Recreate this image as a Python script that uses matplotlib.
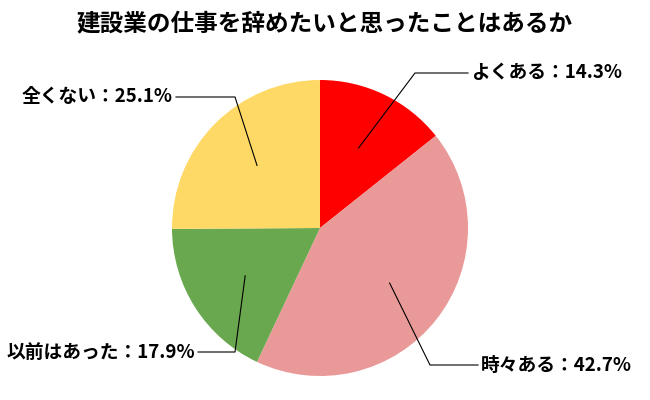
import matplotlib
matplotlib.use("Agg")
import matplotlib.pyplot as plt
import numpy as np

plt.rcParams['font.family'] = ['Noto Sans CJK JP', 'DejaVu Sans']

title = "建設業の仕事を辞めたいと思ったことはあるか"
categories = ["よくある", "時々ある", "以前はあった", "全くない"]
values = [14.3, 42.7, 17.9, 25.1]
colors = ["#FF0000", "#EA9999", "#6AA84F", "#FFD966"]

fig = plt.figure(figsize=(6.5, 4.0), dpi=100)
ax = fig.add_axes([0, 0, 1, 1])

cx, cy, r = 320, 172, 148
wedges, _ = ax.pie(values, colors=colors, startangle=90, counterclock=False,
                   center=(cx, cy), radius=r, frame=True,
                   wedgeprops=dict(linewidth=0))
ax.set_xlim(0, 650); ax.set_ylim(0, 400); ax.set_aspect('equal'); ax.axis('off')

knees = [(415, 327), (430, 35), (235, 48), (235, 303)]
ends = [(468, 327), (478, 35), (198, 48), (176, 303)]
for w, cat, v, k, e in zip(wedges, categories, values, knees, ends):
    ang = np.deg2rad((w.theta1 + w.theta2) / 2)
    ax0 = cx + 0.6 * r * np.cos(ang)
    ay0 = cy + 0.6 * r * np.sin(ang)
    ax.plot([ax0, k[0], e[0]], [ay0, k[1], e[1]], color='black', lw=0.8)
    ha = 'left' if e[0] > k[0] else 'right'
    dx = 3 if ha == 'left' else -3
    ax.text(e[0] + dx, e[1], f"{cat}：{v}%", ha=ha, va='center',
            fontsize=13.5, fontweight='bold')

fig.text(0.5, 1 - 24 / 400, title, ha='center', va='center',
         fontsize=17, fontweight='bold')
fig.savefig("out.png", dpi=100)
